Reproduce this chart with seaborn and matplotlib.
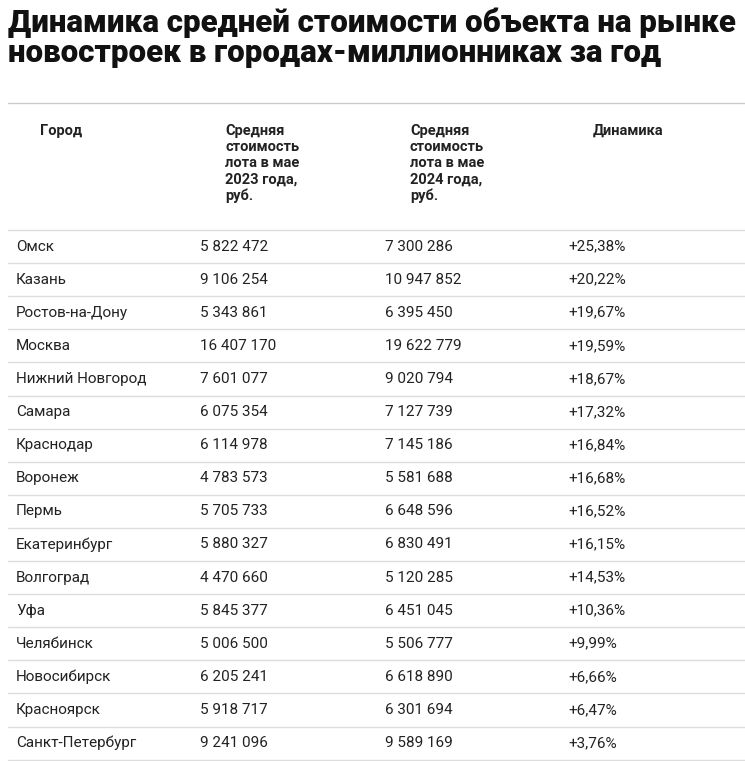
import matplotlib
matplotlib.use("Agg")
import matplotlib.pyplot as plt
import seaborn as sns

sns.set_theme(style="white")
plt.rcParams['font.family'] = ['Roboto', 'DejaVu Sans']

title = "Динамика средней стоимости объекта на рынке\nновостроек в городах-миллионниках за год"
headers = ["Город", "Средняя\nстоимость\nлота в мае\n2023 года,\nруб.", "Средняя\nстоимость\nлота в мае\n2024 года,\nруб.", "Динамика"]
cities = ["Омск", "Казань", "Ростов-на-Дону", "Москва", "Нижний Новгород", "Самара", "Краснодар",
          "Воронеж", "Пермь", "Екатеринбург", "Волгоград", "Уфа", "Челябинск", "Новосибирск",
          "Красноярск", "Санкт-Петербург"]
price_2023 = ["5 822 472", "9 106 254", "5 343 861", "16 407 170", "7 601 077", "6 075 354", "6 114 978",
              "4 783 573", "5 705 733", "5 880 327", "4 470 660", "5 845 377", "5 006 500", "6 205 241",
              "5 918 717", "9 241 096"]
price_2024 = ["7 300 286", "10 947 852", "6 395 450", "19 622 779", "9 020 794", "7 127 739", "7 145 186",
              "5 581 688", "6 648 596", "6 830 491", "5 120 285", "6 451 045", "5 506 777", "6 618 890",
              "6 301 694", "9 589 169"]
dynamics = ["+25,38%", "+20,22%", "+19,67%", "+19,59%", "+18,67%", "+17,32%", "+16,84%", "+16,68%",
            "+16,52%", "+16,15%", "+14,53%", "+10,36%", "+9,99%", "+6,66%", "+6,47%", "+3,76%"]

W, H = 745, 761
fig = plt.figure(figsize=(W/100, H/100), dpi=100)
fig.text(8/W, 1-8/H, title, ha="left", va="top", fontsize=22.5, fontweight="black",
         color="#111111", linespacing=1.0)

ax = fig.add_axes([0, 0, 1, 1])
ax.set_xlim(0, W); ax.set_ylim(H, 0); ax.axis("off")

ax.plot([8, 745], [103, 103], color="#cccccc", lw=1)
hx = [40, 225, 410, 593]
for x, h in zip(hx, headers):
    ax.text(x, 124, h, ha="left", va="top", fontsize=10.5, fontweight="bold", color="#222222", linespacing=1.2)

row0, rh = 230, 33.1
cx = [16, 200, 385, 568]
ax.plot([8, 745], [row0, row0], color="#dddddd", lw=1)
for i, row in enumerate(zip(cities, price_2023, price_2024, dynamics)):
    yc = row0 + rh * (i + 0.5)
    for x, v in zip(cx, row):
        ax.text(x, yc, v, ha="left", va="center", fontsize=11, color="#222222")
    ax.plot([8, 745], [row0 + rh*(i+1)]*2, color="#dddddd", lw=1)

fig.savefig("out.png", dpi=100, facecolor="white")
